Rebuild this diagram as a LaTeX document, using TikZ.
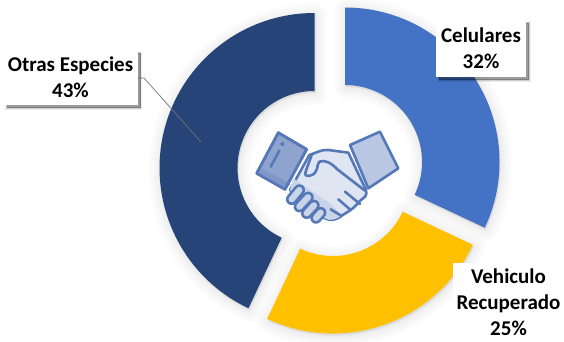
\documentclass[tikz,border=0pt]{standalone}
\usepackage{fontspec}
\setmainfont{Carlito}
\usetikzlibrary{shadows}
\definecolor{cblue}{HTML}{4472C4}
\definecolor{cgold}{HTML}{FFC000}
\definecolor{cnavy}{HTML}{264478}
\definecolor{iline}{HTML}{5578B8}
\definecolor{icuffa}{HTML}{8EA3CE}
\definecolor{icuffd}{HTML}{7F97C8}
\definecolor{icuffb}{HTML}{B9C7E2}
\definecolor{ihand}{HTML}{DFE6F2}
\definecolor{ishade}{HTML}{C9D4E9}
\tikzset{
  x=1pt,y=1pt,
  ringsoft/.style={draw=black,fill=black,opacity=0.012,line join=round},
  labelbox/.style={fill=white,align=center,inner sep=0pt,font=\fontsize{21}{26}\selectfont\bfseries,text=black},
  softshadow/.style={
    general shadow={fill=black,draw=black,line width=3pt,opacity=0.07,shadow xshift=3pt,shadow yshift=-3pt},
    general shadow={fill=black,draw=black,line width=1.5pt,opacity=0.12,shadow xshift=3pt,shadow yshift=-3pt},
    general shadow={fill=black,opacity=0.25,shadow xshift=3pt,shadow yshift=-3pt}},
  icon/.style={draw=iline,line width=2.6pt,line join=round,line cap=round},
  segblue/.style={insert path={([shift={(90:154.5pt)}]345,179) arc[start angle=90,end angle=-25.2,radius=154.5pt] -- ([shift={(-25.2:77pt)}]345,179) arc[start angle=-25.2,end angle=90,radius=77pt] -- cycle}},
  seggold/.style={insert path={([shift={(-25.2:154.5pt)}]333,162) arc[start angle=-25.2,end angle=-115.2,radius=154.5pt] -- ([shift={(-115.2:77pt)}]333,162) arc[start angle=-115.2,end angle=-25.2,radius=77pt] -- cycle}},
  segnavy/.style={insert path={([shift={(90:155pt)}]314.5,173) arc[start angle=90,end angle=244.8,radius=155pt] -- ([shift={(244.8:77pt)}]314.5,173) arc[start angle=244.8,end angle=90,radius=77pt] -- cycle}},
}
\begin{document}
\begin{tikzpicture}
\useasboundingbox (0,0) rectangle (564,341);
% soft shadows
\foreach \w in {24,19,14,10,6,2}{
  \draw[ringsoft,line width=\w pt,shift={(1,-2)},segblue];
  \draw[ringsoft,line width=\w pt,shift={(1,-2)},seggold];
  \draw[ringsoft,line width=\w pt,shift={(1,-2)},segnavy];
}
\fill[cblue,segblue];
\fill[cgold,seggold];
\fill[cnavy,segnavy];
% handshake icon
\begin{scope}[shift={(230,231)},x=0.3333pt,y=-0.3333pt]
  % right cuff
  \draw[icon,fill=icuffb] (450,65) -- (505,175) -- (415,235) -- (360,105) -- cycle;
  % hand
  \draw[icon,fill=ihand] (238,135) .. controls (260,128) and (275,118) .. (295,120)
     -- (355,128) -- (408,240) .. controls (412,255) and (405,262) .. (395,268)
     -- (372,292) .. controls (360,302) and (350,308) .. (338,315)
     .. controls (325,328) and (300,335) .. (285,325) -- (180,240) -- cycle;
  \fill[ishade] (190,205) -- (300,280) -- (335,316) .. controls (320,328) and (300,335) .. (285,325) -- (180,240) -- cycle;
  % fingers
  \foreach \ax/\ay/\bx/\by in {208/240/185/268, 234/262/208/290, 252/286/230/310, 272/308/258/324}{
    \draw[iline,line width=11.5pt,line cap=round] (\ax,\ay) -- (\bx,\by);
    \draw[ishade,line width=6.2pt,line cap=round] (\ax,\ay) -- (\bx,\by);
  }
  % hand lines
  \draw[icon] (322,178) .. controls (305,160) and (285,148) .. (268,155)
     .. controls (258,165) and (268,190) .. (240,197) .. controls (228,200) and (222,195) .. (228,182)
     -- (245,135);
  \draw[icon] (322,178) -- (405,242);
  \draw[icon] (345,245) -- (390,282);
  \draw[icon] (325,268) -- (362,300);
  \draw[icon] (302,298) -- (335,318);
  % left cuff
  \draw[icon,fill=icuffa] (145,68) -- (230,118) -- (165,238) -- (80,190) -- cycle;
  \fill[icuffd] (98,176) -- (182,222) -- (165,236) -- (84,190) -- cycle;
  \draw[icon] (145,68) -- (230,118) -- (165,238) -- (80,190) -- cycle;
  \draw[icon] (148,122) -- (122,170);
  \fill[iline] (157,102) circle[radius=6];
\end{scope}
% labels
\node[labelbox,softshadow,minimum width=134pt,minimum height=55pt] (otras) at (70.5,263.5) {Otras Especies\\43\%};
\node[labelbox,softshadow,minimum width=90pt,minimum height=57pt] (celu) at (481,292.5) {Celulares\\32\%};
\node[labelbox,minimum width=112pt,minimum height=78pt] (vehi) at (508.5,39) {Vehiculo\\Recuperado\\25\%};
\coordinate (otrasbend) at (144,263);
\coordinate (otrasend) at (201,199);
\draw[black!55,line width=0.7pt] (otras.east |- otrasbend) -- (otrasbend) -- (otrasend);
\end{tikzpicture}
\end{document}
